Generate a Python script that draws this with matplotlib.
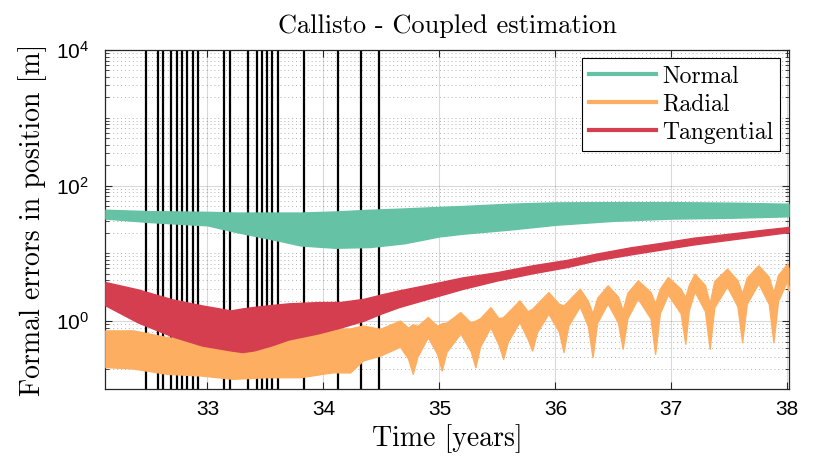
import numpy as np
import matplotlib
matplotlib.use('Agg')
import matplotlib.pyplot as plt
from matplotlib.lines import Line2D
from matplotlib.ticker import FixedLocator, NullFormatter

plt.rcParams['font.family'] = 'Liberation Sans'
plt.rcParams['mathtext.fontset'] = 'cm'

# epochs of the vertical black lines [years]
flyby_years = [32.467, 32.571, 32.614, 32.688, 32.734, 32.778, 32.826, 32.872,
               32.916, 33.145, 33.191, 33.352, 33.424, 33.467, 33.510, 33.556,
               33.605, 33.829, 34.122, 34.326, 34.476]

# Normal: envelope of the oscillating formal error [m]
normal_t = [32.12, 32.5, 33.0, 33.25, 33.6, 33.8, 34.1, 34.4, 34.7, 35.0, 35.2,
            35.6, 36.0, 36.5, 37.0, 37.5, 38.01]
normal_hi = [44, 42, 41, 40, 40, 40, 41.5, 44, 46, 48.5, 50, 54, 56.5, 57, 57, 56, 54]
normal_lo = [32.6, 29.0, 25.9, 20.6, 15.6, 13.1, 12.1, 12.4, 14.1, 17.8, 19.5,
             22.4, 26.4, 30.2, 32.6, 33.5, 35.2]

# Radial
radial_t = [32.12, 32.36, 32.65, 32.94, 33.22, 33.51, 33.80, 34.08, 34.23, 34.34,
            34.49, 34.66, 34.73, 34.77, 34.81, 34.90, 34.98, 35.02, 35.06, 35.18,
            35.27, 35.31, 35.35, 35.44, 35.51, 35.55, 35.59, 35.69, 35.76, 35.80,
            35.84, 35.94, 36.03, 36.07, 36.11, 36.21, 36.28, 36.32, 36.36, 36.45,
            36.54, 36.58, 36.62, 36.71, 36.82, 36.86, 36.90, 36.97, 37.08, 37.12,
            37.15, 37.20, 37.29, 37.33, 37.37, 37.48, 37.57, 37.61, 37.65, 37.75,
            37.84, 37.88, 37.92, 38.00, 38.01]
radial_hi = [0.73, 0.73, 0.58, 0.52, 0.41, 0.44, 0.58, 0.77, 0.78, 0.86,
             0.77, 1.02, 0.80, 0.90, 0.85, 1.15, 0.85, 0.93, 0.95, 1.36,
             0.95, 1.02, 1.10, 1.61, 1.10, 1.15, 1.35, 2.02, 1.40, 1.52,
             1.80, 2.68, 1.80, 1.70, 2.00, 3.01, 2.00, 1.30, 2.20, 3.37,
             2.30, 1.44, 2.60, 3.99, 2.70, 1.83, 3.00, 4.47, 3.00, 2.24,
             3.40, 5.01, 3.40, 1.83, 3.90, 5.94, 4.00, 2.56, 4.40, 6.65,
             4.50, 2.65, 4.80, 7.05, 6.0]
radial_lo = [0.21, 0.20, 0.167, 0.158, 0.141, 0.149, 0.149, 0.176, 0.175, 0.263,
             0.311, 0.42, 0.28, 0.167, 0.30, 0.58, 0.33, 0.187, 0.35, 0.66,
             0.36, 0.209, 0.42, 0.815, 0.45, 0.278, 0.50, 0.97, 0.55, 0.369,
             0.68, 1.29, 0.70, 0.35, 0.85, 1.65, 0.85, 0.294, 0.95, 1.83,
             0.95, 0.391, 1.10, 2.16, 1.10, 0.330, 1.30, 2.48, 1.30, 0.464,
             1.45, 2.75, 1.40, 0.391, 1.60, 3.26, 1.65, 0.489, 1.80, 3.60,
             1.80, 0.489, 2.00, 3.99, 2.84]

# Tangential
tang_t = [32.12, 32.4, 32.7, 32.95, 33.2, 33.3, 33.4, 33.55, 33.7, 33.95, 34.15,
          34.35, 34.5, 34.65, 34.95, 35.2, 35.5, 35.8, 36.1, 36.35, 36.65, 36.9,
          37.2, 37.5, 37.8, 38.01]
tang_hi = [3.77, 2.94, 2.09, 1.71, 1.44, 1.54, 1.62, 1.73, 1.83, 1.91, 1.92,
           2.14, 2.48, 2.84, 3.60, 4.42, 5.29, 6.65, 8.02, 9.90, 12.3, 14.2,
           17.1, 19.5, 22.4, 24.5]
tang_lo = [1.71, 0.957, 0.594, 0.438, 0.37, 0.35, 0.37, 0.438, 0.537, 0.658,
           0.807, 1.02, 1.30, 1.61, 2.26, 2.99, 3.99, 5.07, 6.28, 7.88, 9.66,
           11.3, 13.6, 15.9, 18.5, 20.6]

labels = ['Normal', 'Radial', 'Tangential']
colors = ['#66c2a5', '#fdae61', '#d53e4f']

fig = plt.figure(figsize=(8.3, 4.72), dpi=100)
ax = fig.add_axes([0.127, 0.176, 0.823, 0.718])

for t in flyby_years:
    ax.axvline(t, color='k', lw=1.6, zorder=1.5)

series = [(normal_t, normal_lo, normal_hi),
          (radial_t, radial_lo, radial_hi),
          (tang_t, tang_lo, tang_hi)]
for (t, lo, hi), c in zip(series, colors):
    ax.fill_between(t, lo, hi, color=c, lw=1.0, edgecolor=c, zorder=3)

ax.set_yscale('log')
ax.set_xlim(32.12, 38.01)
ax.set_ylim(0.1, 1e4)
ax.set_xticks(range(33, 39))
ax.yaxis.set_major_locator(FixedLocator([1, 100, 1e4]))
ax.set_yticklabels([r'$\mathregular{10^{0}}$', r'$\mathregular{10^{2}}$',
                    r'$\mathregular{10^{4}}$'])
minors = [m * 10.0**d for d in range(-1, 4) for m in range(1, 10)
          if not (m == 1 and d in (0, 2))]
ax.yaxis.set_minor_locator(FixedLocator(minors))
ax.yaxis.set_minor_formatter(NullFormatter())
ax.xaxis.set_minor_locator(FixedLocator([]))

ax.grid(True, which='major', color='k', alpha=0.15, lw=0.8, ls='-')
ax.grid(True, which='minor', axis='y', color='k', alpha=0.3, lw=0.7, ls=(0, (1, 3)))
ax.set_axisbelow(True)

for s in ax.spines.values():
    s.set_color('#262626')
    s.set_linewidth(0.9)
ax.tick_params(which='both', direction='in', top=True, right=True,
               color='#262626', labelsize=15)
ax.tick_params(which='major', length=5, pad=8)
ax.tick_params(which='minor', length=3)
ax.tick_params(axis='y', which='major', pad=12)

ax.set_title('Callisto - Coupled estimation', family='cmr10', fontsize=19, pad=12)
ax.set_xlabel('Time [years]', family='cmr10', fontsize=20, labelpad=4)
ax.set_ylabel('Formal errors in position [m]', family='cmr10', fontsize=20, labelpad=6)

handles = [Line2D([], [], color=c, lw=3) for c in colors]
leg = ax.legend(handles, labels, loc='upper right', prop={'family': 'cmr10', 'size': 17},
                fancybox=False, edgecolor='k', framealpha=1, handlelength=2.85,
                handletextpad=0.25, labelspacing=0.25, borderpad=0.3, borderaxespad=0.35)
leg.get_frame().set_linewidth(0.8)

fig.savefig('out.png', dpi=100)
